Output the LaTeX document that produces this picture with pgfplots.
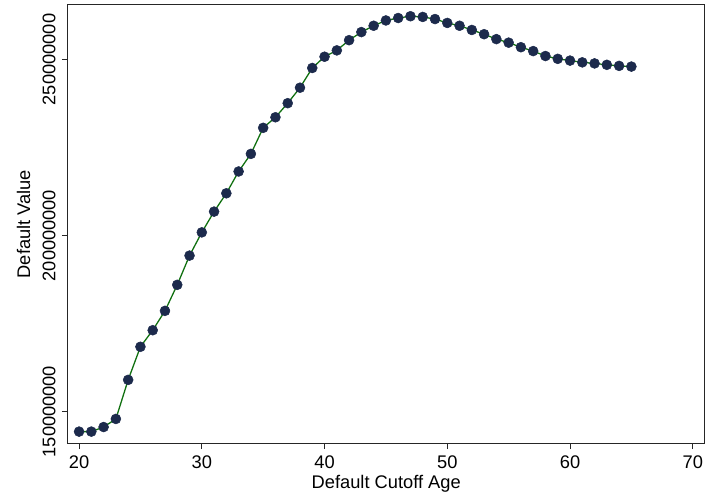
\documentclass[border=0pt]{standalone}
\usepackage{fontspec}
\setmainfont{Liberation Sans}
\usepackage{pgfplots}
\pgfplotsset{compat=1.18}
\definecolor{mk}{RGB}{28,42,76}
\definecolor{ln}{RGB}{16,112,16}
\begin{document}
\fontsize{18.4}{21}\selectfont
\begin{tikzpicture}
\path (-68bp,-55bp) rectangle (641bp,444.7bp);
\begin{axis}[
  at={(0,0)}, anchor=south west,
  scale only axis,
  width=639bp, height=439.7bp,
  xmin=19.08, xmax=70.97,
  ymin=141.0e6, ymax=265.5e6,
  xtick={20,30,40,50,60,70},
  ytick={150000000,200000000,250000000},
  yticklabels={150000000,200000000,250000000},
  scaled y ticks=false,
  /pgf/number format/assume math mode=true,
  tick align=outside,
  major tick length=6bp,
  xtick pos=bottom, ytick pos=left,
  axis line style={line width=1pt, black!85},
  tick style={line width=0.8pt, black!85},
  yticklabel style={rotate=90, anchor=south, font=\fontsize{18.4}{21}\selectfont, xshift=0bp},
  xticklabel style={font=\fontsize{18.4}{21}\selectfont},
  xlabel={Default Cutoff Age},
  ylabel={Default Value},
  xlabel style={font=\fontsize{18.4}{21}\selectfont, yshift=6bp},
  ylabel style={font=\fontsize{18.4}{21}\selectfont, yshift=-4bp},
  every axis y label/.style={at={(ticklabel cs:0.5)}, rotate=90, anchor=south},
  clip=false,
]
\addplot[color=ln, line width=1.3pt, mark=*, mark size=5bp, mark options={fill=mk, draw=mk, line width=0.5pt}] coordinates {
(20,144.3e6) (21,144.3e6) (22,145.6e6) (23,147.9e6) (24,159.0e6)
(25,168.4e6) (26,173.1e6) (27,178.6e6) (28,186.0e6) (29,194.3e6)
(30,200.9e6) (31,206.8e6) (32,212.0e6) (33,218.2e6) (34,223.2e6)
(35,230.6e6) (36,233.6e6) (37,237.6e6) (38,242.0e6) (39,247.6e6)
(40,250.8e6) (41,252.6e6) (42,255.5e6) (43,257.8e6) (44,259.6e6)
(45,261.1e6) (46,261.8e6) (47,262.3e6) (48,262.1e6) (49,261.5e6)
(50,260.4e6) (51,259.6e6) (52,258.4e6) (53,257.2e6) (54,255.8e6)
(55,254.8e6) (56,253.5e6) (57,252.4e6) (58,251.0e6) (59,250.2e6)
(60,249.7e6) (61,249.2e6) (62,248.9e6) (63,248.5e6) (64,248.2e6)
(65,248.0e6)
};
\end{axis}
\end{tikzpicture}
\end{document}
